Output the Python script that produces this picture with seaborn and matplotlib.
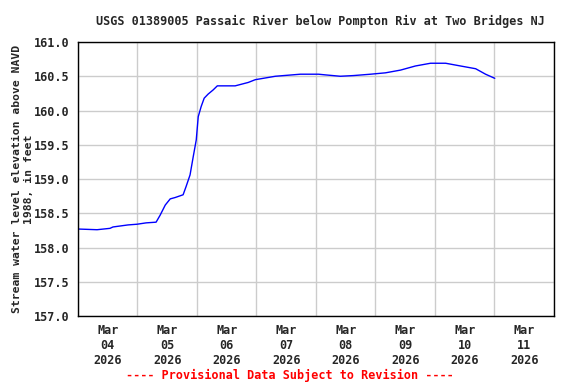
import numpy as np
import pandas as pd
import matplotlib
matplotlib.use("Agg")
import matplotlib.pyplot as plt
import matplotlib.dates as mdates
import seaborn as sns

# hours after 2026-03-04 00:00 and gage height (ft, NAVD 1988)
hours = [0, 7.7, 12.9, 14.1, 20.2, 23.8, 27.5, 31.5, 33.1, 35.2, 37.2, 39.2,
         42.4, 43.6, 45.2, 46.5, 47.7, 48.5, 49.7, 50.9, 52.5, 54.5, 56.2,
         63.4, 68.7, 71.5, 79.6, 89.7, 97.0, 99.8, 105.8, 111.1, 118.0,
         124.0, 130.1, 136.1, 142.2, 148.3, 154.3, 160.4, 164.4, 168.1]
level = [158.27, 158.26, 158.28, 158.30, 158.33, 158.34, 158.36, 158.37,
         158.47, 158.62, 158.71, 158.73, 158.77, 158.89, 159.06, 159.33,
         159.57, 159.91, 160.06, 160.18, 160.24, 160.30, 160.36, 160.36,
         160.41, 160.45, 160.50, 160.53, 160.53, 160.52, 160.50, 160.51,
         160.53, 160.55, 160.59, 160.65, 160.69, 160.69, 160.65, 160.61,
         160.53, 160.47]
day_labels = ["Mar\n04\n2026", "Mar\n05\n2026", "Mar\n06\n2026", "Mar\n07\n2026",
              "Mar\n08\n2026", "Mar\n09\n2026", "Mar\n10\n2026", "Mar\n11\n2026"]
y_ticks = [157.0, 157.5, 158.0, 158.5, 159.0, 159.5, 160.0, 160.5, 161.0]

start = pd.Timestamp("2026-03-04")
df = pd.DataFrame({"time": start + pd.to_timedelta(hours, unit="h"),
                   "level": level})

sns.set_style("white")
plt.rcParams['font.family'] = ['DejaVu Sans Mono']
plt.rcParams['font.weight'] = 'bold'

fig = plt.figure(figsize=(5.76, 3.84), dpi=100)
ax = fig.add_axes([0.1354, 0.177, 0.8264, 0.7136])

sns.lineplot(data=df, x="time", y="level", color="#0000ff", linewidth=1.0, ax=ax)

ax.set_xlim(start, start + pd.Timedelta(days=8))
ax.set_ylim(157.0, 161.0)

midnights = [start + pd.Timedelta(days=i) for i in range(9)]
noons = [start + pd.Timedelta(days=i, hours=12) for i in range(8)]
ax.set_xticks(noons)
ax.set_xticklabels(day_labels, fontsize=8.5, fontweight="bold")
ax.set_xticks(midnights, minor=True)
ax.set_yticks(y_ticks)
ax.set_yticklabels([f"{v:.1f}" for v in y_ticks], fontsize=8.5, fontweight="bold")

ax.grid(False)
ax.grid(True, which="minor", axis="x", color="#cccccc", linewidth=1)
ax.grid(True, which="major", axis="y", color="#cccccc", linewidth=1)
ax.tick_params(which="both", length=0, pad=6)
for s in ax.spines.values():
    s.set_color("black")
    s.set_linewidth(1)

ax.set_xlabel("")
ax.set_ylabel("Stream water level elevation above NAVD\n1988, in feet",
              fontsize=8.2, fontweight="bold", labelpad=0)
ax.set_title("USGS 01389005 Passaic River below Pompton Riv at Two Bridges NJ",
             fontsize=8.5, fontweight="bold", pad=12, x=0.51)

fig.text(0.503, 0.012, "---- Provisional Data Subject to Revision ----",
         color="red", fontsize=8.5, fontweight="bold", ha="center")

plt.savefig("out.png", dpi=100)
plt.close()
